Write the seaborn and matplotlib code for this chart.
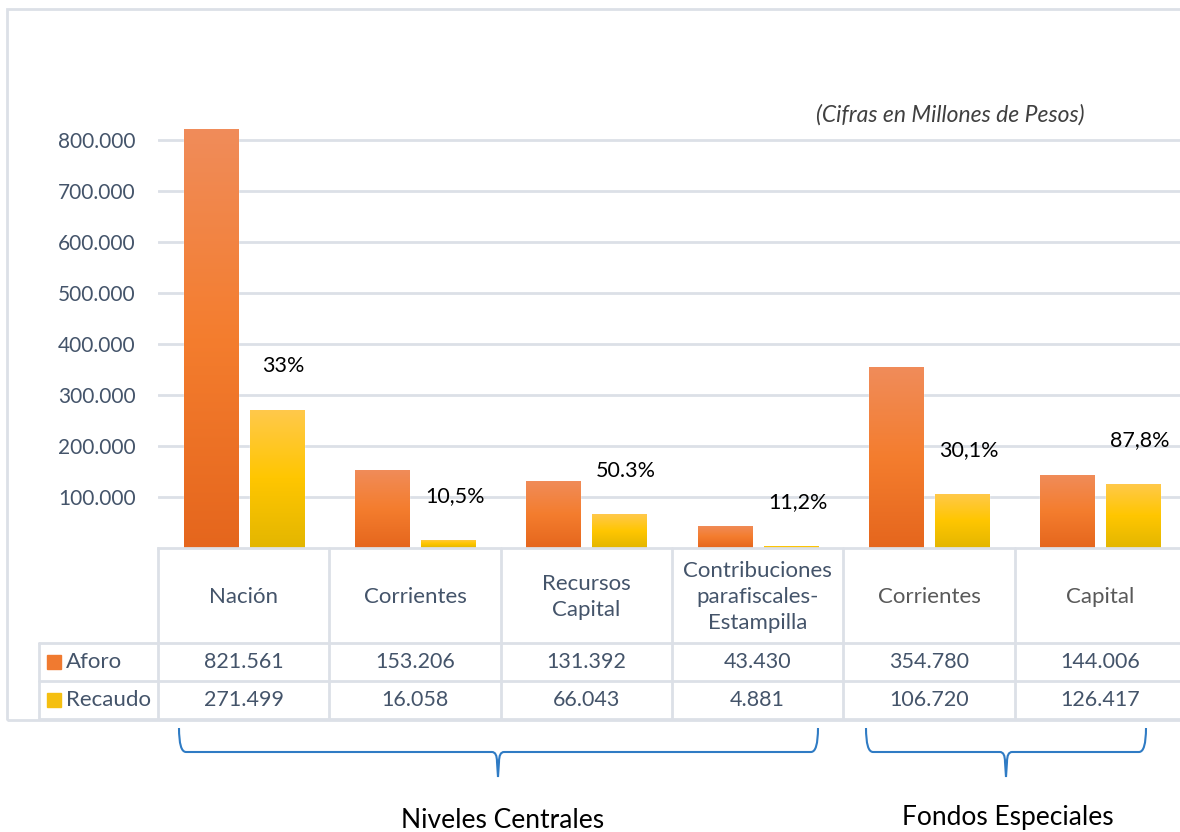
import numpy as np
import pandas as pd
import seaborn as sns
import matplotlib
matplotlib.use("Agg")
import matplotlib.pyplot as plt
from matplotlib.path import Path
from matplotlib.patches import PathPatch, Rectangle
from matplotlib.transforms import blended_transform_factory
from matplotlib.colors import LinearSegmentedColormap, to_rgb

# datos (cifras en millones de pesos)
categorias = ["Nación", "Corrientes", "Recursos\nCapital",
              "Contribuciones\nparafiscales-\nEstampilla", "Corrientes", "Capital"]
aforo = [821561, 153206, 131392, 43430, 354780, 144006]
recaudo = [271499, 16058, 66043, 4881, 106720, 126417]
porcentajes = ["33%", "10,5%", "50.3%", "11,2%", "30,1%", "87,8%"]
series = ["Aforo", "Recaudo"]
grupos = ["Niveles Centrales", "Fondos Especiales"]
yticks = [100000, 200000, 300000, 400000, 500000, 600000, 700000, 800000]

W, H = 1180, 832
df = pd.DataFrame({
    "col": list(range(len(categorias))) * 2,
    "serie": ["Aforo"] * len(aforo) + ["Recaudo"] * len(recaudo),
    "valor": aforo + recaudo,
})

sns.set_theme(style="white")
plt.rcParams["font.family"] = ["Lato", "DejaVu Sans"]

grad = {
    "Aforo": ["#F08C5A", "#F47D2E", "#E5661D"],
    "Recaudo": ["#FFC94C", "#FFC600", "#E3B600"],
}
solid = {"Aforo": "#F07A30", "Recaudo": "#F5BF10"}
slate = "#44546A"
linec = "#DCE0E7"
blue = "#2F7BC4"

fig = plt.figure(figsize=(W / 100, H / 100), dpi=100)
ax = fig.add_axes([158 / W, (H - 548) / H, 1028 / W, (548 - 60) / H])

sns.barplot(data=df, x="col", y="valor", hue="serie", palette=solid,
            width=0.77, gap=0.18, legend=False, ax=ax, saturation=1)

ax.set_autoscale_on(False)
ax.set_xlim(-0.5, len(categorias) - 0.5)
ymax = (548 - 60) / 51 * 100000
ax.set_ylim(0, ymax)

# gradient fill on each bar
for serie, cont in zip(series, ax.containers):
    cmap = LinearSegmentedColormap.from_list(serie, [to_rgb(c) for c in grad[serie]])
    g = cmap(np.linspace(0, 1, 256))[:, None, :3]
    for bar in cont:
        x0, w, h = bar.get_x(), bar.get_width(), bar.get_height()
        im = ax.imshow(g, extent=(x0, x0 + w, 0, h), origin="upper",
                       aspect="auto", zorder=bar.get_zorder() + 0.1)
        im.set_clip_path(bar)

# percentage labels above recaudo bars
for bar, lab in zip(ax.containers[1], porcentajes):
    ax.text(bar.get_x() + bar.get_width() / 2 + 0.04, bar.get_height() + 85000,
            lab, ha="center", va="center", fontsize=15.5, color="black")

ax.set_yticks(yticks)
ax.set_yticklabels([f"{v:,}".replace(",", ".") for v in yticks], fontsize=15, color=slate)
ax.tick_params(axis="y", length=0, pad=16)
ax.set_xticks([])
ax.set_xlabel("")
ax.set_ylabel("")
ax.yaxis.grid(True, color=linec, lw=2)
ax.set_axisbelow(True)
for s in ["top", "right", "left"]:
    ax.spines[s].set_visible(False)
ax.spines["bottom"].set_color(linec)
ax.spines["bottom"].set_linewidth(2)

fig.text(950 / W, 1 - 115 / H, "(Cifras en Millones de Pesos)",
         ha="center", va="center", fontsize=16.5, style="italic", color="#404040")

# data table under the chart
tr = blended_transform_factory(ax.transData, fig.transFigure)
def fy(py):
    return 1 - py / H

n = len(categorias)
xl = -0.5 - 119 / (1028 / n)
kw = dict(transform=tr, color=linec, lw=2, clip_on=False)
for k in range(n + 1):
    ax.plot([k - 0.5, k - 0.5], [fy(548), fy(719)], **kw)
for py in [643, 681, 719]:
    ax.plot([xl, n - 0.5], [fy(py), fy(py)], **kw)
ax.plot([xl, xl], [fy(643), fy(719)], **kw)

for i, cat in enumerate(categorias):
    ax.text(i, fy(597), cat, transform=tr, ha="center", va="center", fontsize=16,
            color=slate if i < 4 else "#595959", linespacing=1.4, clip_on=False)
    ax.text(i, fy(662), f"{aforo[i]:,}".replace(",", "."), transform=tr,
            ha="center", va="center", fontsize=15.5, color=slate, clip_on=False)
    ax.text(i, fy(700), f"{recaudo[i]:,}".replace(",", "."), transform=tr,
            ha="center", va="center", fontsize=15.5, color=slate, clip_on=False)

for serie, py in zip(series, [662, 700]):
    fig.add_artist(Rectangle((47 / W, fy(py + 7)), 14 / W, 14 / H,
                             transform=fig.transFigure, color=solid[serie]))
    fig.text(66 / W, fy(py), serie, ha="left", va="center", fontsize=16, color=slate)

# outer frame
fig.add_artist(Rectangle((7 / W, fy(720)), (W - 5) / W, (720 - 9) / H,
                         transform=fig.transFigure, fill=False, edgecolor=linec, lw=2))

# braces
def brace(x0, x1, xm):
    pts = [(x0, 728), (x0, 752), (x0 + 7, 752), (xm - 6, 752), (xm - 1, 752), (xm - 1, 762),
           (xm, 777), (xm + 1, 762), (xm + 1, 752), (xm + 6, 752), (x1 - 7, 752),
           (x1, 752), (x1, 728)]
    codes = [Path.MOVETO, Path.CURVE3, Path.CURVE3, Path.LINETO, Path.CURVE3, Path.CURVE3,
             Path.LINETO, Path.LINETO, Path.CURVE3, Path.CURVE3, Path.LINETO,
             Path.CURVE3, Path.CURVE3]
    verts = [(px / W, fy(py)) for px, py in pts]
    fig.add_artist(PathPatch(Path(verts, codes), transform=fig.transFigure,
                             fill=False, edgecolor=blue, lw=1.5))

brace(179, 818, 498)
brace(866, 1146, 1006)
fig.text(503 / W, fy(821), grupos[0], ha="center", va="center", fontsize=19, color="black")
fig.text(1008 / W, fy(817), grupos[1], ha="center", va="center", fontsize=19, color="black")

fig.savefig("out.png", dpi=100)
